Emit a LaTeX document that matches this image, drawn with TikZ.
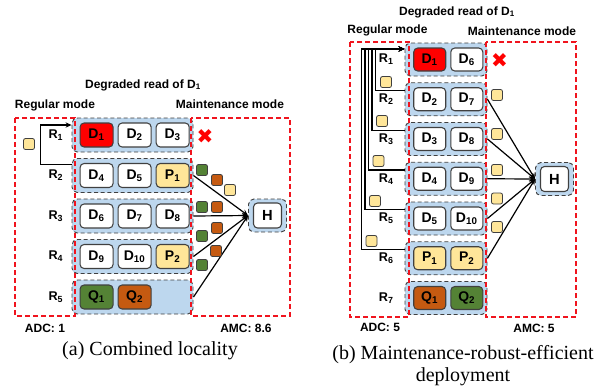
\documentclass[tikz,border=0pt]{standalone}
\usepackage{fontspec}
\setmainfont{Liberation Serif}
\setsansfont{Liberation Sans}
\newfontfamily\symfont{DejaVu Sans}
\usetikzlibrary{arrows.meta,positioning}
\definecolor{rowblue}{HTML}{BDD7EE}
\definecolor{failred}{HTML}{FF0000}
\definecolor{parityyellow}{HTML}{FFE699}
\definecolor{localgreen}{HTML}{548235}
\definecolor{localorange}{HTML}{C55A11}
\definecolor{edgegray}{HTML}{404040}
\definecolor{modered}{HTML}{F0141E}
\tikzset{
  rowbox/.style={draw=edgegray, densely dashed, line width=0.7pt, rounded corners=4pt,
    fill=rowblue, minimum width=90.75pt, minimum height=25.5pt, inner sep=0pt},
  browbox/.style={rowbox, minimum width=61.5pt, minimum height=24.75pt},
  blkbox/.style={draw=edgegray, line width=0.8pt, rounded corners=3pt, fill=white,
    minimum width=24.75pt, minimum height=18pt, inner sep=0pt,
    font=\sffamily\bfseries\fontsize{10.5}{12}\selectfont},
  bblkbox/.style={blkbox, minimum width=24pt, minimum height=17.25pt},
  failbox/.style={fill=failred},
  paritybox/.style={fill=parityyellow},
  greenbox/.style={fill=localgreen},
  orangebox/.style={fill=localorange},
  hbox/.style={draw=edgegray, densely dashed, line width=0.7pt, rounded corners=4pt,
    fill=rowblue, minimum width=28.5pt, minimum height=24.75pt, inner sep=0pt},
  hinbox/.style={blkbox, minimum width=21pt, minimum height=18.75pt,
    font=\sffamily\bfseries\fontsize{11}{12}\selectfont},
  rowlabel/.style={font=\sffamily\bfseries\fontsize{9.5}{11}\selectfont, inner sep=2pt},
  headtext/.style={font=\sffamily\bfseries\fontsize{9}{11}\selectfont, inner sep=0pt},
  captext/.style={font=\fontsize{15}{16.5}\selectfont, align=center, inner sep=0pt},
  chunk/.style={draw=edgegray, line width=0.6pt, rounded corners=1.5pt,
    minimum size=8.25pt, inner sep=0pt},
  modebox/.style={draw=modered, line width=1.1pt, dash pattern=on 3.5pt off 2.5pt},
  backarr/.style={line width=0.9pt, -{Stealth[length=4.5pt, width=4pt]}},
  linkarr/.style={line width=0.9pt, -{Stealth[length=4.5pt, width=4pt]}},
  xmark/.style={text=failred, font=\symfont\fontsize{15}{15}\selectfont, inner sep=0pt}
}
\begin{document}
\begin{tikzpicture}[x=0.75pt, y=-0.75pt]
  \useasboundingbox (0,0) rectangle (610,387);
  % (a) combined locality
  \foreach \i/\y in {1/135,2/175.5,3/216,4/256.5,5/297} {
    \node[rowbox] (ar\i) at (132.5,\y) {};
    \node[rowlabel, left=4pt of ar\i] (al\i) {R\textsubscript{\i}};
  }
  \draw[modebox] (15,118) rectangle (75,316);
  \draw[modebox] (191,118) rectangle (290,316);
  \node[blkbox, failbox, anchor=west] (ad1) at ([xshift=6pt]ar1.west) {D\textsubscript{1}};
  \node[blkbox, right=3pt of ad1] (ad2) {D\textsubscript{2}};
  \node[blkbox, right=3pt of ad2] (ad3) {D\textsubscript{3}};
  \node[blkbox, anchor=west] (ad4) at ([xshift=6pt]ar2.west) {D\textsubscript{4}};
  \node[blkbox, right=3pt of ad4] (ad5) {D\textsubscript{5}};
  \node[blkbox, paritybox, right=3pt of ad5] (ap1) {P\textsubscript{1}};
  \node[blkbox, anchor=west] (ad6) at ([xshift=6pt]ar3.west) {D\textsubscript{6}};
  \node[blkbox, right=3pt of ad6] (ad7) {D\textsubscript{7}};
  \node[blkbox, right=3pt of ad7] (ad8) {D\textsubscript{8}};
  \node[blkbox, anchor=west] (ad9) at ([xshift=6pt]ar4.west) {D\textsubscript{9}};
  \node[blkbox, right=3pt of ad9] (ad10) {D\textsubscript{10}};
  \node[blkbox, paritybox, right=3pt of ad10] (ap2) {P\textsubscript{2}};
  \node[blkbox, greenbox, anchor=west] (aq1) at ([xshift=6pt]ar5.west) {Q\textsubscript{1}};
  \node[blkbox, orangebox, right=3pt of aq1] (aq2) {Q\textsubscript{2}};
  \node[hbox] (ah) at (267.5,215.5) {};
  \node[hinbox] (ahin) at (ah.center) {H};
  \draw[backarr] ([yshift=8.25pt]ar2.west) -- ++(-31,0) |- ([yshift=7.5pt]ar1.west);
  \foreach \i in {2,...,5}
    \draw[linkarr] (ar\i.east) -- (ah.west);
  \node[chunk, fill=parityyellow] (ac0) at (29,144) {};
  \node[chunk, fill=localgreen] (ac1) at (202,170) {};
  \node[chunk, fill=localorange] (ac2) at (217,180) {};
  \node[chunk, fill=parityyellow] (ac3) at (230,190) {};
  \node[chunk, fill=localgreen] (ac4) at (202,207) {};
  \node[chunk, fill=localorange] (ac5) at (217,207) {};
  \node[chunk, fill=localorange] (ac6) at (217,228) {};
  \node[chunk, fill=localgreen] (ac7) at (202,236) {};
  \node[chunk, fill=localorange] (ac8) at (216,251) {};
  \node[chunk, fill=localgreen] (ac9) at (202,265) {};
  \node[xmark] (ax) at (205,137) {✖};
  \node[headtext] (adeg) at (143,85) {Degraded read of D\textsubscript{1}};
  \node[headtext] (areg) at (55,105) {Regular mode};
  \node[headtext] (amain) at (230,104) {Maintenance mode};
  \node[headtext] (aadc) at (45,328) {ADC: 1};
  \node[headtext] (aamc) at (246,328) {AMC: 8.6};
  \node[captext] (acap) at (150,351) {(a) Combined locality};

  % (b) maintenance-robust-efficient deployment
  \foreach \i/\y in {1/59.5,2/99.25,3/139,4/178.75,5/218.5,6/258.25,7/298} {
    \node[browbox] (br\i) at (446,\y) {};
    \node[rowlabel, left=6pt of br\i] (bl\i) {R\textsubscript{\i}};
  }
  \draw[modebox] (350,42) rectangle (409,317);
  \draw[modebox] (486,42) rectangle (576,317);
  \node[bblkbox, failbox, anchor=west] (bd1) at ([xshift=6.5pt]br1.west) {D\textsubscript{1}};
  \node[bblkbox, right=3pt of bd1] (bd6) {D\textsubscript{6}};
  \node[bblkbox, anchor=west] (bd2) at ([xshift=6.5pt]br2.west) {D\textsubscript{2}};
  \node[bblkbox, right=3pt of bd2] (bd7) {D\textsubscript{7}};
  \node[bblkbox, anchor=west] (bd3) at ([xshift=6.5pt]br3.west) {D\textsubscript{3}};
  \node[bblkbox, right=3pt of bd3] (bd8) {D\textsubscript{8}};
  \node[bblkbox, anchor=west] (bd4) at ([xshift=6.5pt]br4.west) {D\textsubscript{4}};
  \node[bblkbox, right=3pt of bd4] (bd9) {D\textsubscript{9}};
  \node[bblkbox, anchor=west] (bd5) at ([xshift=6.5pt]br5.west) {D\textsubscript{5}};
  \node[bblkbox, right=3pt of bd5] (bd10) {D\textsubscript{10}};
  \node[bblkbox, paritybox, anchor=west] (bp1) at ([xshift=6.5pt]br6.west) {P\textsubscript{1}};
  \node[bblkbox, paritybox, right=3pt of bp1] (bp2) {P\textsubscript{2}};
  \node[bblkbox, orangebox, anchor=west] (bq1) at ([xshift=6.5pt]br7.west) {Q\textsubscript{1}};
  \node[bblkbox, greenbox, right=3pt of bq1] (bq2) {Q\textsubscript{2}};
  \node[hbox] (bh) at (554.5,179) {};
  \node[hinbox] (bhin) at (bh.center) {H};
  \foreach \i/\d in {2/29,3/32.5,4/36,5/39.5,6/43}
    \draw[backarr] ([yshift=6.5pt]br\i.west) -- ++(-\d,0) |- ([yshift=7.9pt]br1.west);
  \foreach \i in {2,...,6}
    \draw[linkarr] (br\i.east) -- (bh.west);
  \node[chunk, fill=parityyellow] (bc1) at (386,82) {};
  \node[chunk, fill=parityyellow] (bc2) at (382,121) {};
  \node[chunk, fill=parityyellow] (bc3) at (378.5,161) {};
  \node[chunk, fill=parityyellow] (bc4) at (375,201) {};
  \node[chunk, fill=parityyellow] (bc5) at (371.5,241) {};
  \node[chunk, fill=parityyellow] (bc6) at (497,95) {};
  \node[chunk, fill=parityyellow] (bc7) at (497,134) {};
  \node[chunk, fill=parityyellow] (bc8) at (497,170) {};
  \node[chunk, fill=parityyellow] (bc9) at (497,198.5) {};
  \node[chunk, fill=parityyellow] (bc10) at (497,227) {};
  \node[xmark] (bx) at (499.5,60.5) {✖};
  \node[headtext] (bdeg) at (457,12) {Degraded read of D\textsubscript{1}};
  \node[headtext] (breg) at (387.5,30) {Regular mode};
  \node[headtext] (bmain) at (522,31) {Maintenance mode};
  \node[headtext] (badc) at (380,327) {ADC: 5};
  \node[headtext] (bamc) at (534,328) {AMC: 5};
  \node[captext] (bcap) at (463,366) {(b) Maintenance-robust-efficient\\deployment};
\end{tikzpicture}
\end{document}
